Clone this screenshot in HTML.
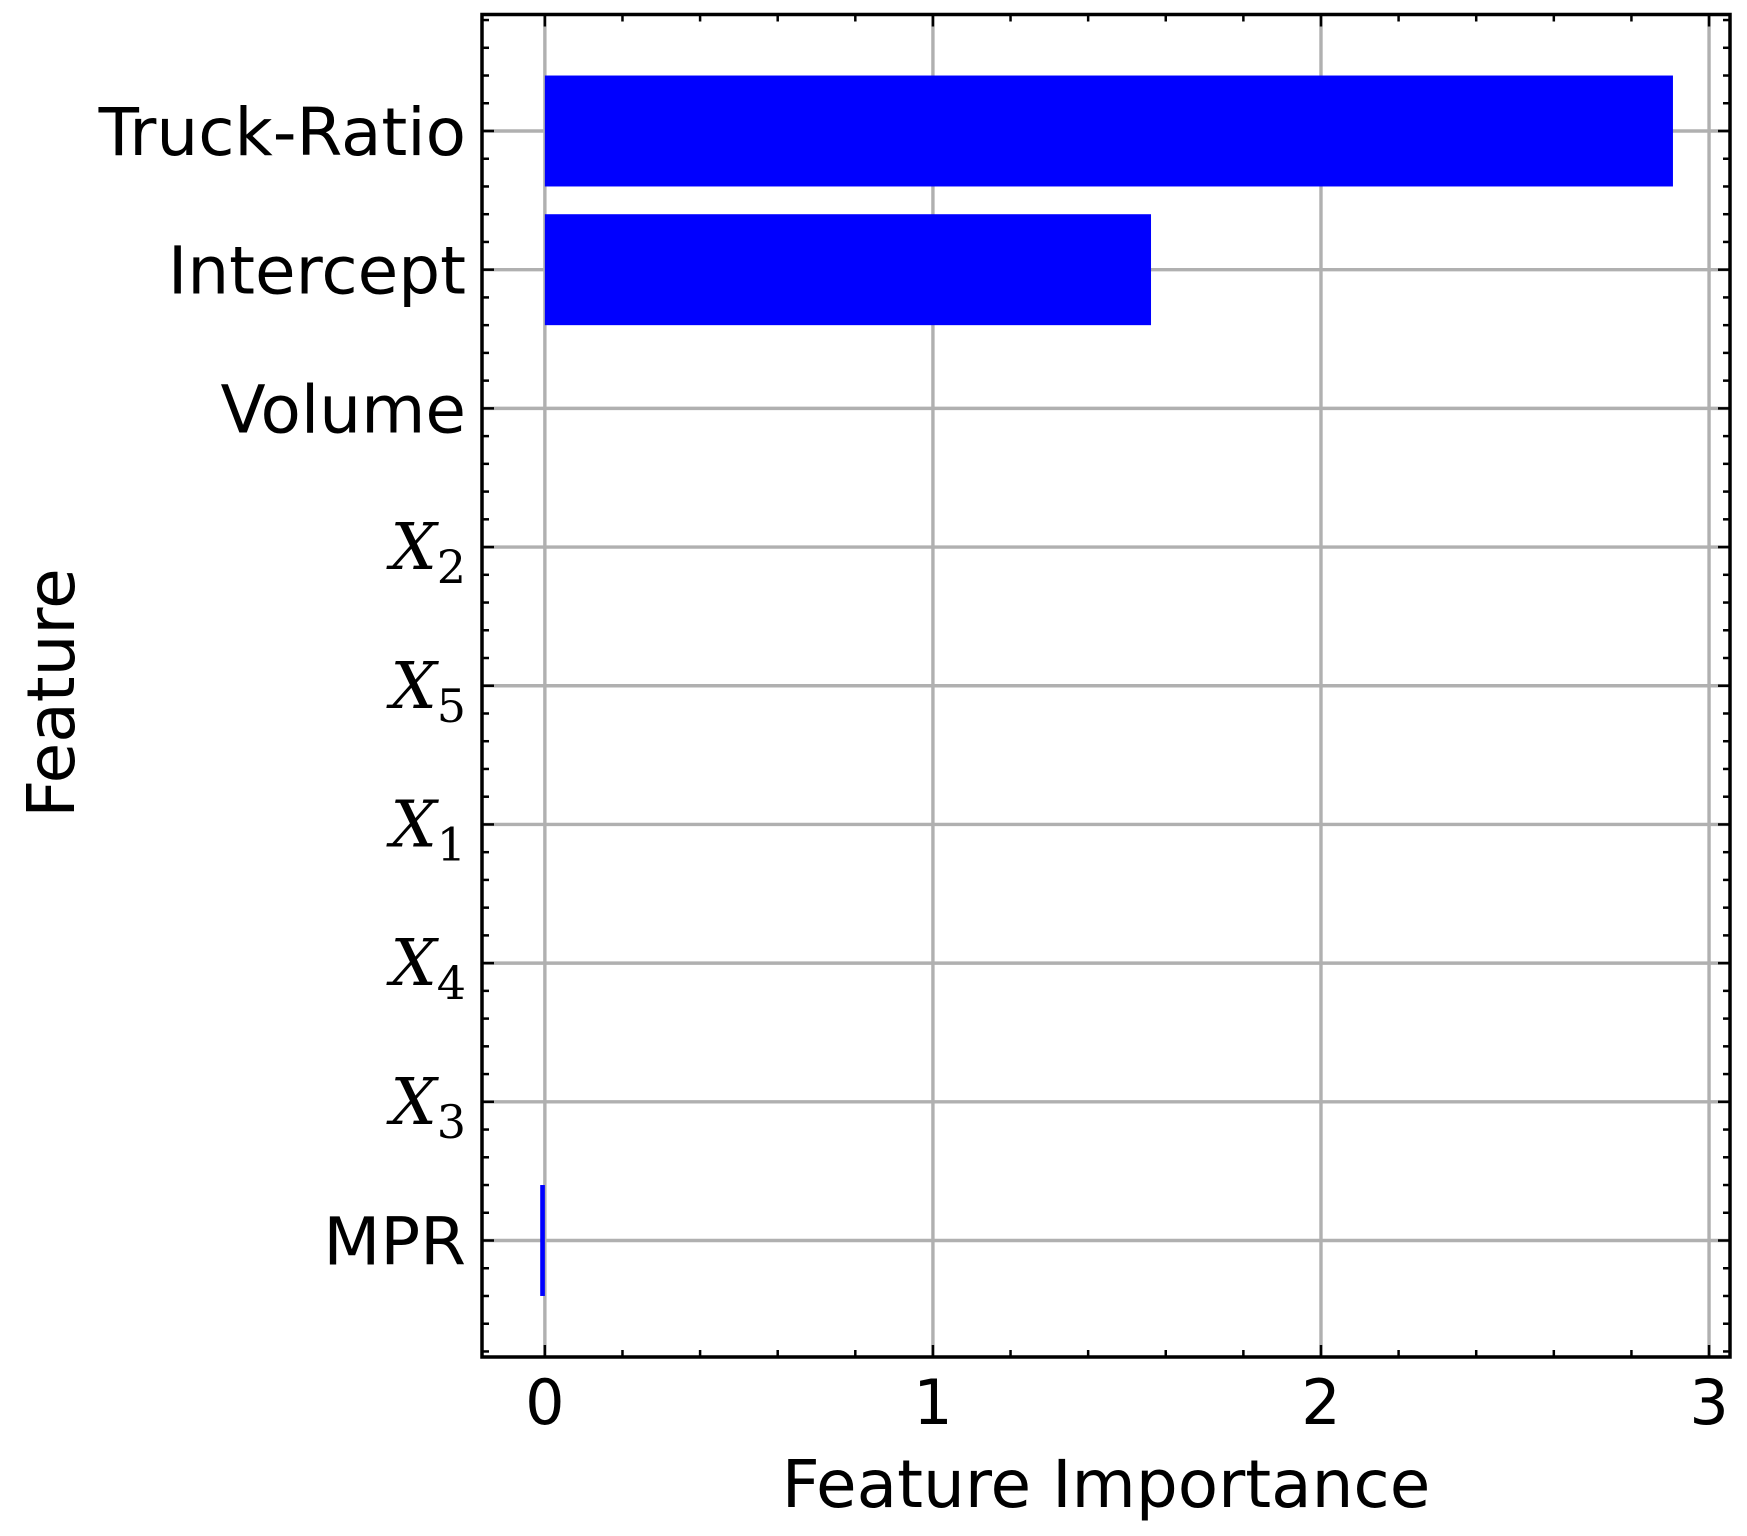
<!DOCTYPE html>
<html><head><meta charset="utf-8"><style>
html,body{margin:0;padding:0;background:#fff;}
svg{display:block;}
text{font-family:"DejaVu Sans","Liberation Sans",sans-serif;fill:#000;}
.m{font-family:"DejaVu Serif","Liberation Serif",serif;font-style:italic;}
.s{font-family:"DejaVu Serif","Liberation Serif",serif;font-style:normal;}
</style></head><body>
<svg id="chart" width="1747" height="1536" viewBox="0 0 1747 1536" xmlns="http://www.w3.org/2000/svg">
<g id="grid"></g>
<g id="bars"></g>
<g id="ticks"></g>
<g id="labels"></g>
<rect x="482" y="14.5" width="1248" height="1342.5" fill="none" stroke="#000" stroke-width="3.5"/>
<text x="1106" y="1507" font-size="66" text-anchor="middle">Feature Importance</text>
<text x="0" y="0" font-size="66" text-anchor="middle" transform="translate(74,693) rotate(-90)">Feature</text>
</svg>
<script>
const features = ["Truck-Ratio","Intercept","Volume","X2","X5","X1","X4","X3","MPR"];
const importances = [2.907, 1.562, 0, 0, 0, 0, 0, 0, -0.012];
const xTicks = [0, 1, 2, 3];
const xTickLabels = ["0","1","2","3"];

const NS = "http://www.w3.org/2000/svg";
const L = 482, R = 1730, T = 14.5, B = 1357;
const xMin = -0.162, xMax = 3.054;
const yMin = -0.84, yMax = features.length - 1 + 0.84;
function xs(v){ return L + (v - xMin) / (xMax - xMin) * (R - L); }
function ys(i){ return T + (i - yMin) / (yMax - yMin) * (B - T); }
function mk(tag, attrs, parent){
  const e = document.createElementNS(NS, tag);
  for (const k in attrs) e.setAttribute(k, attrs[k]);
  parent.appendChild(e);
  return e;
}
const grid = document.getElementById('grid');
const bars = document.getElementById('bars');
const ticks = document.getElementById('ticks');
const labels = document.getElementById('labels');
const rowH = (B - T) / (yMax - yMin);

xTicks.forEach((t, k) => {
  const g = mk('line', {x1: xs(t), x2: xs(t), y1: T, y2: B, stroke: '#b0b0b0', 'stroke-width': 3.4}, grid);
  
  
  const lb = mk('text', {x: xs(t), y: 1424, 'font-size': 62, 'text-anchor': 'middle'}, labels);
  lb.textContent = xTickLabels[k];
  
  
});
features.forEach((f, i) => {
  const g = mk('line', {x1: L, x2: R, y1: ys(i), y2: ys(i), stroke: '#b0b0b0', 'stroke-width': 3.4}, grid);
  
  
  const v = importances[i];
  const x0 = Math.min(xs(0), xs(v)), w = Math.max(Math.abs(xs(v) - xs(0)), 0);
  if (w > 0) {
    const b = mk('rect', {x: x0, y: ys(i) - 0.4 * rowH, width: Math.max(w, 2.5), height: 0.8 * rowH, fill: '#0000ff'}, bars);
    
    
  }
  const lb = mk('text', {x: 466, y: ys(i) + 24, 'font-size': 66, 'text-anchor': 'end'}, labels);
  const m = /^X(\d)$/.exec(f);
  if (m) {
    lb.setAttribute('class', 'm');
    lb.setAttribute('font-size', 65);
    lb.setAttribute('y', ys(i) + 22);
    lb.textContent = 'X';
    const sub = mk('tspan', {class: 's', 'font-size': 46, dy: 14}, lb);
    sub.textContent = m[1];
  } else {
    lb.textContent = f;
  }
  
  
});
for (let k = 0; k <= 15; k++) {
  const v = k * 0.2;
  if (v > xMax) break;
  const len = (k % 5 === 0) ? 12 : 7;
  mk('line', {x1: xs(v), x2: xs(v), y1: B, y2: B - len, stroke: '#000', 'stroke-width': 2.5}, ticks);
  mk('line', {x1: xs(v), x2: xs(v), y1: T, y2: T + len, stroke: '#000', 'stroke-width': 2.5}, ticks);
}
for (let k = -4; k <= (features.length - 1) * 5 + 4; k++) {
  const v = k * 0.2;
  const len = (k % 5 === 0) ? 12 : 7;
  mk('line', {x1: L, x2: L + len, y1: ys(v), y2: ys(v), stroke: '#000', 'stroke-width': 2.5}, ticks);
  mk('line', {x1: R, x2: R - len, y1: ys(v), y2: ys(v), stroke: '#000', 'stroke-width': 2.5}, ticks);
}
</script>
</body></html>
